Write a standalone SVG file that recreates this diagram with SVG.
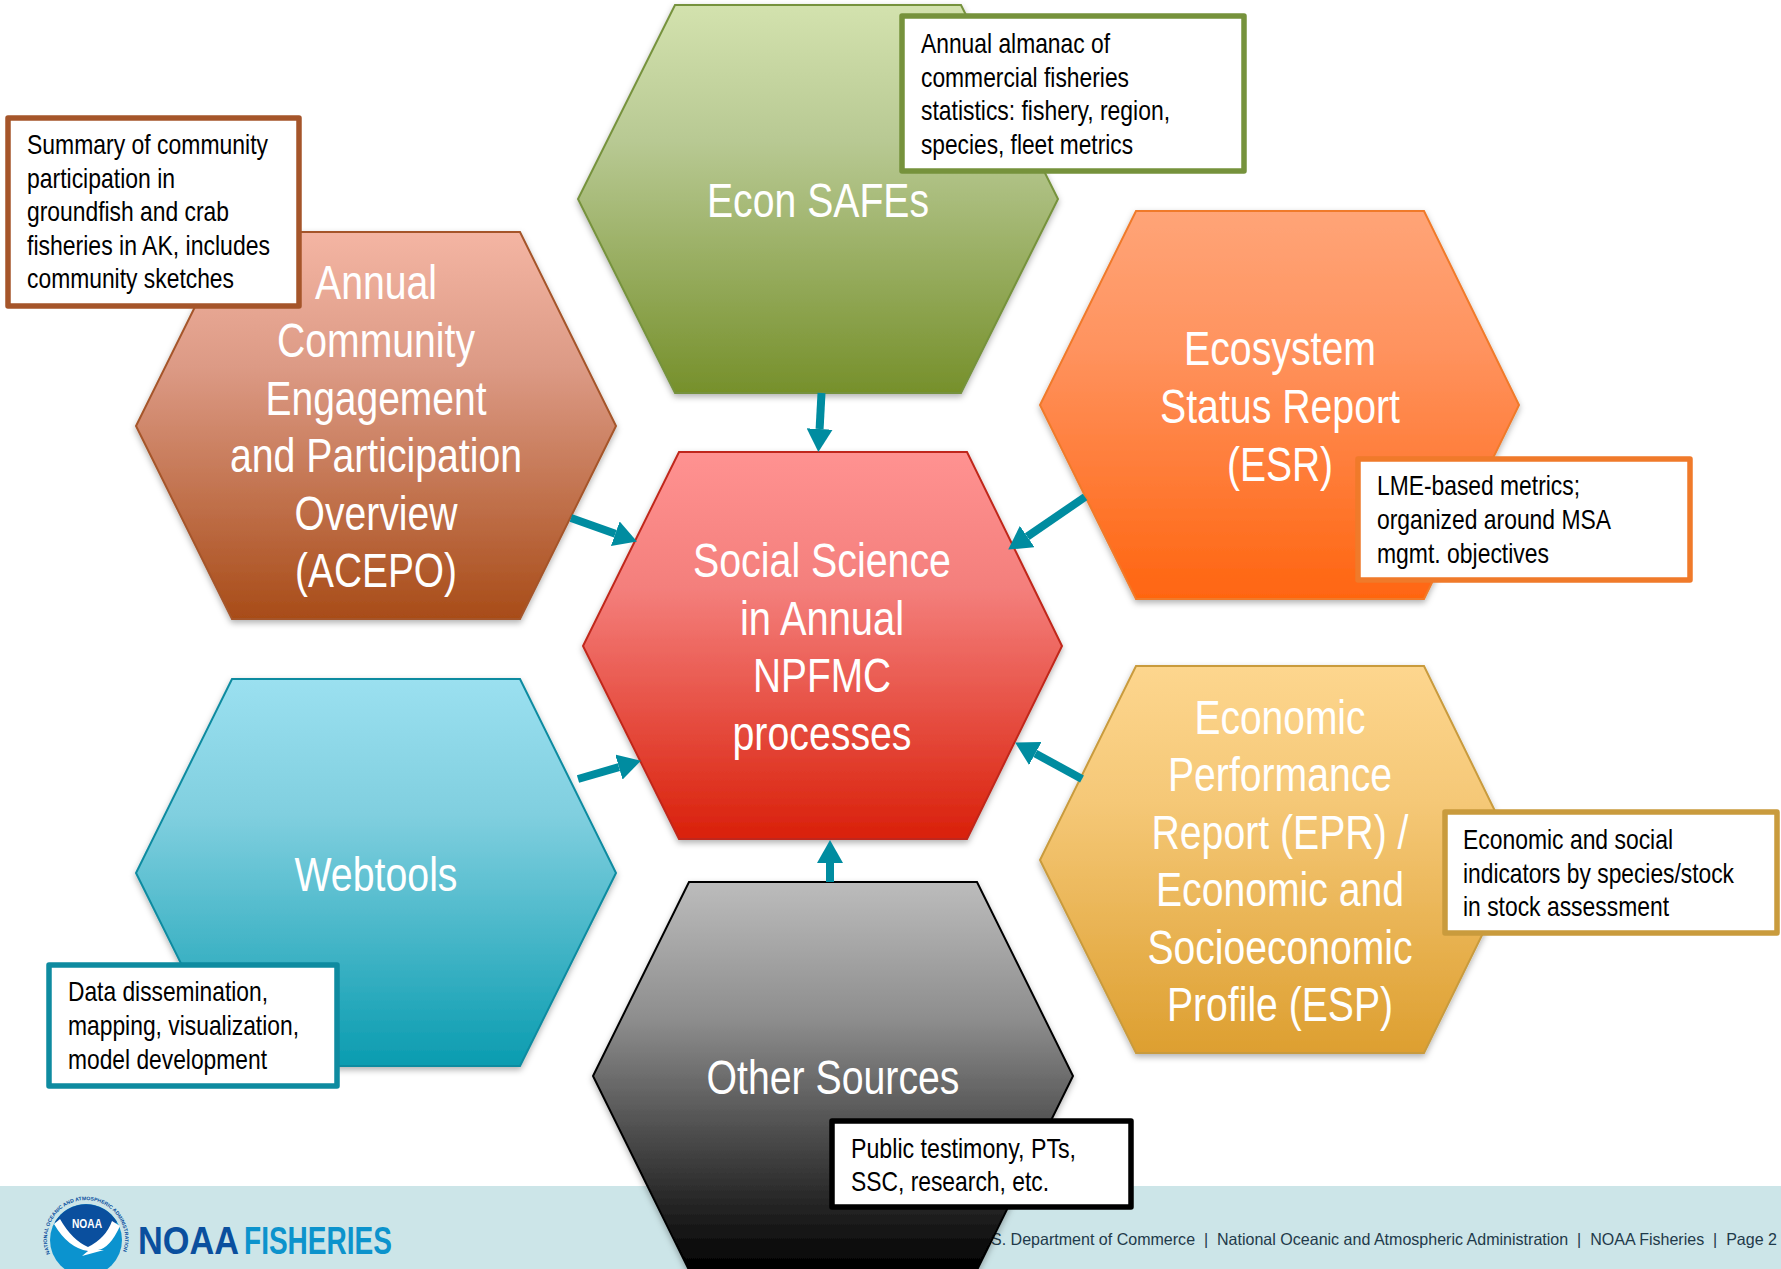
<svg xmlns="http://www.w3.org/2000/svg" xmlns:xlink="http://www.w3.org/1999/xlink" width="1781" height="1269" viewBox="0 0 1781 1269">
<style>
text{font-family:"Liberation Sans",Arial,sans-serif}
.h{fill:#fff;font-size:49px;text-anchor:middle}
.c{fill:#000;font-size:28.5px}
.b{fill:#fff;stroke-width:5.5;stroke-linejoin:round}
.hex{stroke-width:2;filter:url(#sh)}
.a{stroke:#008ca0;stroke-width:8;fill:none;marker-end:url(#ah)}
</style>
<defs>
<filter id="sh" x="-5%" y="-5%" width="110%" height="112%"><feDropShadow dx="0" dy="3" stdDeviation="3" flood-color="#000" flood-opacity=".3"/></filter>
<marker id="ah" markerUnits="userSpaceOnUse" markerWidth="24" markerHeight="26" refX="0" refY="13" orient="auto"><path d="M0 0L23 13L0 26Z" fill="#008ca0"/></marker>
<linearGradient id="g1" x1="0" y1="0" x2="0" y2="1"><stop offset="0" stop-color="#d3e2ae"/><stop offset=".35" stop-color="#b8c993"/><stop offset="1" stop-color="#76902b"/></linearGradient>
<linearGradient id="g2" x1="0" y1="0" x2="0" y2="1"><stop offset="0" stop-color="#ff9291"/><stop offset=".35" stop-color="#f47f7c"/><stop offset="1" stop-color="#d9200a"/></linearGradient>
<linearGradient id="g3" x1="0" y1="0" x2="0" y2="1"><stop offset="0" stop-color="#f4b5a3"/><stop offset=".35" stop-color="#dc9a85"/><stop offset="1" stop-color="#a84c18"/></linearGradient>
<linearGradient id="g4" x1="0" y1="0" x2="0" y2="1"><stop offset="0" stop-color="#ffa477"/><stop offset=".35" stop-color="#ff935f"/><stop offset="1" stop-color="#ff6510"/></linearGradient>
<linearGradient id="g5" x1="0" y1="0" x2="0" y2="1"><stop offset="0" stop-color="#fdd68e"/><stop offset=".35" stop-color="#f5c877"/><stop offset="1" stop-color="#dd9f30"/></linearGradient>
<linearGradient id="g6" x1="0" y1="0" x2="0" y2="1"><stop offset="0" stop-color="#9be0f0"/><stop offset=".35" stop-color="#80cfdf"/><stop offset="1" stop-color="#0a9cb0"/></linearGradient>
<linearGradient id="g7" x1="0" y1="0" x2="0" y2="1"><stop offset="0" stop-color="#bcbcbc"/><stop offset=".35" stop-color="#8e8e8e"/><stop offset="1" stop-color="#000"/></linearGradient>
<path id="ringTop" d="M50 1254A39 39 0 1 1 122 1254"/>
</defs>

<g id="footer">
<rect x="0" y="1186" width="1781" height="83" fill="#cce5e8"/>
<text x="991" y="1245" font-size="16.5" fill="#1f3a4a" textLength="786" lengthAdjust="spacingAndGlyphs" xml:space="preserve">S. Department of Commerce  |  National Oceanic and Atmospheric Administration  |  NOAA Fisheries  |  Page 2</text>
<g id="logo">
<circle cx="86" cy="1240" r="36" fill="#0b93cf"/>
<path d="M55 1222A36 36 0 0 1 117 1222Q104 1240 88 1252Q70 1240 55 1222Z" fill="#0a4f9e"/>
<path d="M54 1224L60 1219Q72 1240 88 1247Q106 1238 112 1221L120 1226Q110 1248 98 1250L104 1250L82 1256L88 1251Q68 1248 54 1224Z" fill="#fff"/>
<text x="87" y="1228" font-size="12.5" font-weight="bold" fill="#fff" text-anchor="middle" textLength="30" lengthAdjust="spacingAndGlyphs">NOAA</text>
<text font-size="5" font-weight="bold" fill="#0a4f9e"><textPath href="#ringTop" xlink:href="#ringTop" textLength="150" lengthAdjust="spacingAndGlyphs">NATIONAL OCEANIC AND ATMOSPHERIC ADMINISTRATION</textPath></text>
<text x="138" y="1254" font-size="39" font-weight="bold" fill="#0a4f9e" textLength="101" lengthAdjust="spacingAndGlyphs">NOAA</text>
<text x="244" y="1254" font-size="39" font-weight="bold" fill="#0c93cc" textLength="148" lengthAdjust="spacingAndGlyphs">FISHERIES</text>
</g>
</g>

<g id="node-econ">
<polygon class="hex" points="675,5 961,5 1058,199 961,393 675,393 578,199" fill="url(#g1)" stroke="#76923c"/>
<text class="h" x="818" y="217" textLength="222" lengthAdjust="spacingAndGlyphs">Econ SAFEs</text>
</g>
<g id="node-acepo">
<polygon class="hex" points="232,232 520,232 616,426 520,619 232,619 136,426" fill="url(#g3)" stroke="#a5552a"/>
<text class="h" x="376" y="299" textLength="122" lengthAdjust="spacingAndGlyphs">Annual</text>
<text class="h" x="376" y="357" textLength="198" lengthAdjust="spacingAndGlyphs">Community</text>
<text class="h" x="376" y="415" textLength="221" lengthAdjust="spacingAndGlyphs">Engagement</text>
<text class="h" x="376" y="472" textLength="292" lengthAdjust="spacingAndGlyphs">and Participation</text>
<text class="h" x="376" y="530" textLength="163" lengthAdjust="spacingAndGlyphs">Overview</text>
<text class="h" x="376" y="587" textLength="162" lengthAdjust="spacingAndGlyphs">(ACEPO)</text>
</g>
<g id="node-esr">
<polygon class="hex" points="1136,211 1424,211 1519,405 1424,599 1136,599 1040,405" fill="url(#g4)" stroke="#f07a2a"/>
<text class="h" x="1280" y="365" textLength="192" lengthAdjust="spacingAndGlyphs">Ecosystem</text>
<text class="h" x="1280" y="423" textLength="240" lengthAdjust="spacingAndGlyphs">Status Report</text>
<text class="h" x="1280" y="481" textLength="106" lengthAdjust="spacingAndGlyphs">(ESR)</text>
</g>
<g id="node-epr">
<polygon class="hex" points="1136,666 1424,666 1519,860 1424,1053 1136,1053 1040,860" fill="url(#g5)" stroke="#c99b3d"/>
<text class="h" x="1280" y="734" textLength="171" lengthAdjust="spacingAndGlyphs">Economic</text>
<text class="h" x="1280" y="791" textLength="224" lengthAdjust="spacingAndGlyphs">Performance</text>
<text class="h" x="1280" y="849" textLength="257" lengthAdjust="spacingAndGlyphs">Report (EPR) /</text>
<text class="h" x="1280" y="906" textLength="248" lengthAdjust="spacingAndGlyphs">Economic and</text>
<text class="h" x="1280" y="964" textLength="265" lengthAdjust="spacingAndGlyphs">Socioeconomic</text>
<text class="h" x="1280" y="1021" textLength="226" lengthAdjust="spacingAndGlyphs">Profile (ESP)</text>
</g>
<g id="node-webtools">
<polygon class="hex" points="232,679 520,679 616,873 520,1066 232,1066 136,873" fill="url(#g6)" stroke="#0e8ba0"/>
<text class="h" x="376" y="891" textLength="163" lengthAdjust="spacingAndGlyphs">Webtools</text>
</g>
<g id="node-other">
<polygon class="hex" points="689,882 977,882 1073,1076 977,1270 689,1270 593,1076" fill="url(#g7)" stroke="#000"/>
<text class="h" x="833" y="1094" textLength="253" lengthAdjust="spacingAndGlyphs">Other Sources</text>
</g>
<g id="node-center">
<polygon class="hex" points="679,452 967,452 1062,646 967,839 679,839 583,646" fill="url(#g2)" stroke="#c0281a"/>
<text class="h" x="822" y="577" textLength="258" lengthAdjust="spacingAndGlyphs">Social Science</text>
<text class="h" x="822" y="635" textLength="164" lengthAdjust="spacingAndGlyphs">in Annual</text>
<text class="h" x="822" y="692" textLength="138" lengthAdjust="spacingAndGlyphs">NPFMC</text>
<text class="h" x="822" y="750" textLength="179" lengthAdjust="spacingAndGlyphs">processes</text>
</g>

<g id="connectors">
<line class="a" x1="821.5" y1="393" x2="819.6" y2="429"/>
<line class="a" x1="571" y1="518" x2="615.3" y2="533.7"/>
<line class="a" x1="1085" y1="497" x2="1027.2" y2="536.6"/>
<line class="a" x1="578" y1="779" x2="618.9" y2="767.1"/>
<line class="a" x1="1082" y1="779" x2="1035.3" y2="753.5"/>
<line class="a" x1="830" y1="882" x2="830" y2="863"/>
</g>

<g id="note-econ">
<rect class="b" x="902" y="16" width="342" height="155" stroke="#76923c"/>
<text class="c" x="921" y="53" textLength="189" lengthAdjust="spacingAndGlyphs">Annual almanac of</text>
<text class="c" x="921" y="87" textLength="208" lengthAdjust="spacingAndGlyphs">commercial fisheries</text>
<text class="c" x="921" y="120" textLength="249" lengthAdjust="spacingAndGlyphs">statistics: fishery, region,</text>
<text class="c" x="921" y="154" textLength="212" lengthAdjust="spacingAndGlyphs">species, fleet metrics</text>
</g>
<g id="note-acepo">
<rect class="b" x="8" y="118" width="291" height="188" stroke="#a5552a"/>
<text class="c" x="27" y="154" textLength="241" lengthAdjust="spacingAndGlyphs">Summary of community</text>
<text class="c" x="27" y="188" textLength="148" lengthAdjust="spacingAndGlyphs">participation in</text>
<text class="c" x="27" y="221" textLength="202" lengthAdjust="spacingAndGlyphs">groundfish and crab</text>
<text class="c" x="27" y="255" textLength="243" lengthAdjust="spacingAndGlyphs">fisheries in AK, includes</text>
<text class="c" x="27" y="288" textLength="207" lengthAdjust="spacingAndGlyphs">community sketches</text>
</g>
<g id="note-esr">
<rect class="b" x="1358" y="459" width="332" height="121" stroke="#f07a2a"/>
<text class="c" x="1377" y="495" textLength="203" lengthAdjust="spacingAndGlyphs">LME-based metrics;</text>
<text class="c" x="1377" y="529" textLength="234" lengthAdjust="spacingAndGlyphs">organized around MSA</text>
<text class="c" x="1377" y="563" textLength="172" lengthAdjust="spacingAndGlyphs">mgmt. objectives</text>
</g>
<g id="note-epr">
<rect class="b" x="1445" y="812" width="332" height="121" stroke="#c99b3d"/>
<text class="c" x="1463" y="849" textLength="210" lengthAdjust="spacingAndGlyphs">Economic and social</text>
<text class="c" x="1463" y="883" textLength="271" lengthAdjust="spacingAndGlyphs">indicators by species/stock</text>
<text class="c" x="1463" y="916" textLength="206" lengthAdjust="spacingAndGlyphs">in stock assessment</text>
</g>
<g id="note-webtools">
<rect class="b" x="49" y="965" width="288" height="121" stroke="#0e8ba0"/>
<text class="c" x="68" y="1001" textLength="200" lengthAdjust="spacingAndGlyphs">Data dissemination,</text>
<text class="c" x="68" y="1035" textLength="231" lengthAdjust="spacingAndGlyphs">mapping, visualization,</text>
<text class="c" x="68" y="1069" textLength="199" lengthAdjust="spacingAndGlyphs">model development</text>
</g>
<g id="note-other">
<rect class="b" x="832" y="1121" width="299" height="86" stroke="#000"/>
<text class="c" x="851" y="1158" textLength="225" lengthAdjust="spacingAndGlyphs">Public testimony, PTs,</text>
<text class="c" x="851" y="1191" textLength="198" lengthAdjust="spacingAndGlyphs">SSC, research, etc.</text>
</g>
</svg>
